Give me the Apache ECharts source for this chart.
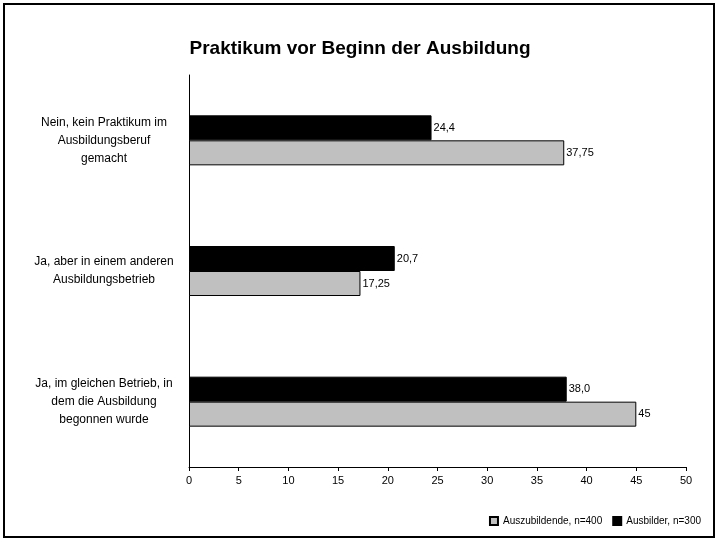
<!DOCTYPE html><html><head><meta charset="utf-8"><script src="https://cdn.jsdelivr.net/npm/echarts@6/dist/echarts.min.js"></script>
<style>body{margin:0}#c{width:720px;height:543px}#f{position:absolute;left:3px;top:3px;width:712px;height:535px;border:2px solid #000;box-sizing:border-box;pointer-events:none}</style></head><body><div id="c"></div><div id="f"></div><script>
const categories=["Ja, im gleichen Betrieb, in\ndem die Ausbildung\nbegonnen wurde","Ja, aber in einem anderen\nAusbildungsbetrieb","Nein, kein Praktikum im\nAusbildungsberuf\ngemacht"];
const azubi=[45,17.25,37.75];
const azubiLabels=["45","17,25","37,75"];
const ausbilder=[38.0,20.7,24.4];
const ausbilderLabels=["38,0","20,7","24,4"];
const ticks=[0,5,10,15,20,25,30,35,40,45,50];
const c=echarts.init(document.getElementById('c'));
const ff='Liberation Sans, Arial, sans-serif';
c.setOption({backgroundColor:'#fff',animation:false,textStyle:{fontFamily:ff},
title:{text:'Praktikum vor Beginn der Ausbildung',left:'center',top:34,textStyle:{fontSize:19,fontWeight:'bold',color:'#000',fontFamily:ff}},
legend:{right:14,bottom:12,itemWidth:8,itemHeight:8,itemGap:10,textStyle:{fontSize:10,color:'#000'},data:[{name:'Auszubildende, n=400',icon:'rect'},{name:'Ausbilder, n=300',icon:'rect'}]},
grid:{left:189,right:34,top:75,bottom:76},
xAxis:{type:'value',min:0,max:50,interval:5,axisLine:{show:true,lineStyle:{color:'#000'}},axisTick:{show:true,length:4,inside:false},splitLine:{show:false},axisLabel:{color:'#000',fontSize:11,formatter:v=>ticks.includes(v)?String(v):''}},
yAxis:{type:'category',data:categories,axisLine:{lineStyle:{color:'#000'}},axisTick:{length:4,lineStyle:{color:'#000'}},axisLabel:{color:'#000',fontSize:12,lineHeight:18,align:'center',margin:85}},
series:[
{name:'Ausbilder, n=300',type:'bar',data:ausbilder,barWidth:25,barGap:'0%',itemStyle:{color:'#000',borderColor:'#000',borderWidth:1},label:{show:true,position:'right',distance:2,color:'#000',fontSize:11,formatter:p=>ausbilderLabels[p.dataIndex]}},
{name:'Auszubildende, n=400',type:'bar',data:azubi,barWidth:25,itemStyle:{color:'#c0c0c0',borderColor:'#000',borderWidth:1},label:{show:true,position:'right',distance:2,color:'#000',fontSize:11,formatter:p=>azubiLabels[p.dataIndex]}}
]});
</script></body></html>
